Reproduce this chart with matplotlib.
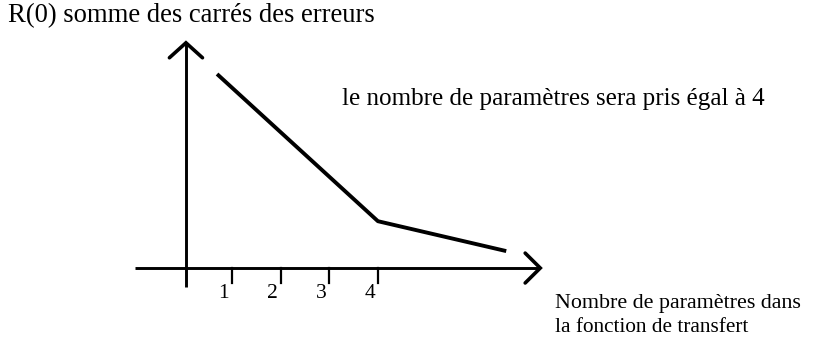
import matplotlib
matplotlib.use("Agg")
import matplotlib.pyplot as plt

# R(0) against number of parameters in the transfer function
n_params = [0.69, 4.0, 6.64]
r_values = [8.7, 2.1, 0.76]
tick_positions = [1, 2, 3, 4]
tick_labels = ["1", "2", "3", "4"]

plt.rcParams["font.family"] = ["Liberation Serif", "DejaVu Serif"]

fig = plt.figure(figsize=(8.27, 3.55), dpi=100)
ax = fig.add_axes([0, 0, 1, 1])
ax.set_xlim(-3.776, 13.24)
ax.set_ylim(-3.90, 12.02)
ax.axis("off")

lw_axis = 2.1
# axes drawn by hand, with open arrowheads
ax.plot([-1.0, 7.34], [0, 0], color="black", lw=lw_axis, solid_capstyle="butt")
ax.plot([0.05, 0.05], [-0.85, 10.1], color="black", lw=lw_axis, solid_capstyle="butt")
ax.plot([0.05 - 0.34, 0.05, 0.05 + 0.34], [10.1 - 0.67, 10.1, 10.1 - 0.67],
        color="black", lw=2.6, solid_capstyle="round", solid_joinstyle="miter")
ax.plot([7.34 - 0.31, 7.34, 7.34 - 0.31], [0.67, 0, -0.67],
        color="black", lw=2.6, solid_capstyle="round", solid_joinstyle="miter")

for pos, lab in zip(tick_positions, tick_labels):
    ax.plot([pos, pos], [0, -0.67], color="black", lw=1.6)
    ax.text(pos - 0.06, -0.72, lab, ha="right", va="top", fontsize=15.5)

ax.plot(n_params, r_values, color="black", lw=2.8, solid_capstyle="butt")

fig.text(8 / 827, 1 - 22 / 355, "R(0) somme des carrés des erreurs",
         fontsize=19.2, va="baseline", ha="left")
fig.text(342 / 827, 1 - 105 / 355, "le nombre de paramètres sera pris égal à 4",
         fontsize=18.1, va="baseline", ha="left")
fig.text(555 / 827, 1 - 308 / 355, "Nombre de paramètres dans",
         fontsize=15.8, va="baseline", ha="left")
fig.text(555 / 827, 1 - 332 / 355, "la fonction de transfert",
         fontsize=15.3, va="baseline", ha="left")

fig.savefig("out.png", dpi=100)
